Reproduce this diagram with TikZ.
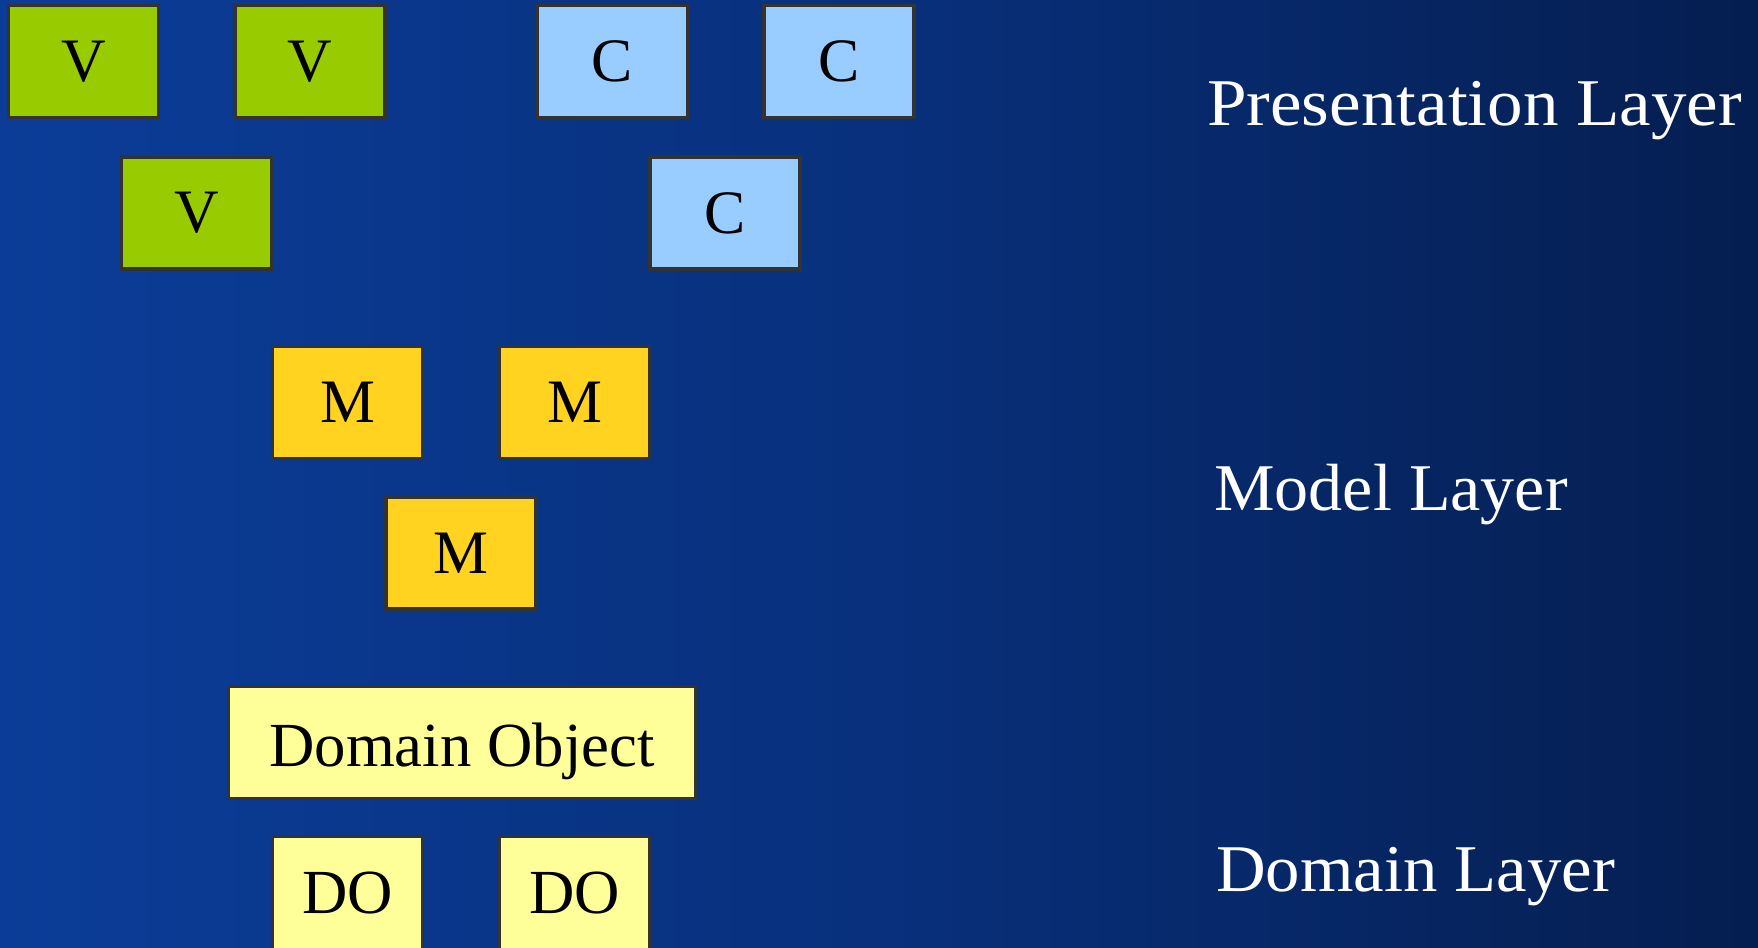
\documentclass[tikz,border=0pt]{standalone}
\usepackage{fontspec}
\setmainfont{Liberation Serif}
\definecolor{bgleft}{RGB}{11,61,152}
\definecolor{bgmid}{RGB}{8,48,124}
\definecolor{bgright}{RGB}{5,30,80}
\definecolor{boxline}{RGB}{51,51,51}
\definecolor{viewfill}{RGB}{153,204,0}
\definecolor{ctrlfill}{RGB}{153,204,255}
\definecolor{modelfill}{RGB}{255,211,32}
\definecolor{domfill}{RGB}{255,255,153}
\tikzset{
  box/.style={draw=boxline, line width=3.6bp, minimum width=150bp, minimum height=112bp,
    inner sep=0pt, font=\fontsize{62}{70}\selectfont, text=black},
  viewbox/.style={box, fill=viewfill},
  ctrlbox/.style={box, fill=ctrlfill},
  modelbox/.style={box, fill=modelfill},
  dombox/.style={box, fill=domfill, font=\fontsize{63}{70}\selectfont},
  layerlabel/.style={anchor=base west, inner sep=0pt, text=white, font=\fontsize{67}{75}\selectfont}
}
\begin{document}
\begin{tikzpicture}[x=1bp,y=-1bp]
  % background
  \shade[left color=bgleft, right color=bgright, middle color=bgmid] (0,0) rectangle (1758,947);
  \useasboundingbox (0,0) rectangle (1758,947);
  % presentation layer: views and controllers
  \node[viewbox] (v1) at (83.5,61.5) {V};
  \node[viewbox] (v2) at (310,61.5) {V};
  \node[viewbox] (v3) at (196.5,213) {V};
  \node[ctrlbox] (c1) at (612.5,61.5) {C};
  \node[ctrlbox] (c2) at (839,61.5) {C};
  \node[ctrlbox] (c3) at (725,213) {C};
  % model layer
  \node[modelbox] (m1) at (347.5,402.5) {M};
  \node[modelbox] (m2) at (574.5,402.5) {M};
  \node[modelbox] (m3) at (461,553) {M};
  % domain layer
  \node[dombox, minimum width=467bp, text depth=0pt] (dobj) at (462,742.5) {\raisebox{-5bp}{Domain Object}};
  \node[dombox, minimum height=114bp] (do1) at (347.5,893.5) {DO};
  \node[dombox, minimum height=114bp] (do2) at (574.5,893.5) {DO};
  % layer labels
  \node[layerlabel] (lp) at (1207,125) {\scalebox{1.065}[1]{Presentation Layer}};
  \node[layerlabel] (lm) at (1214,510) {\scalebox{1.02}[1]{Model Layer}};
  \node[layerlabel] (ld) at (1216,891) {\scalebox{1.03}[1]{Domain Layer}};
\end{tikzpicture}
\end{document}
